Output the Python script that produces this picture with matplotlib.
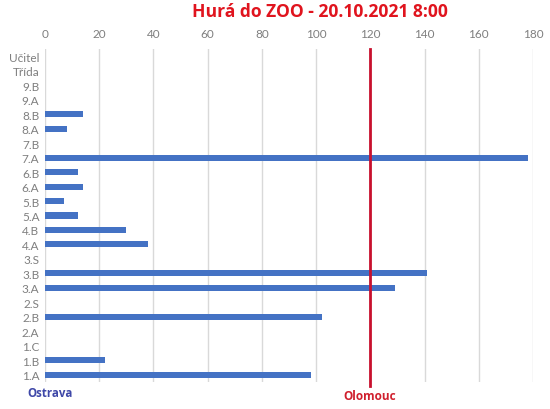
import matplotlib
matplotlib.use("Agg")
import matplotlib.pyplot as plt

plt.rcParams["font.family"] = ["Lato", "DejaVu Sans"]

# Classes listed top to bottom, with number of pupils per class
classes = ["Učitel", "Třída", "9.B", "9.A", "8.B", "8.A", "7.B", "7.A",
           "6.B", "6.A", "5.B", "5.A", "4.B", "4.A", "3.S", "3.B", "3.A",
           "2.S", "2.B", "2.A", "1.C", "1.B", "1.A"]
counts = [0, 0, 0, 0, 14, 8, 0, 178,
          12, 14, 7, 12, 30, 38, 0, 141, 129,
          0, 102, 0, 0, 22, 98]
x_ticks = [0, 20, 40, 60, 80, 100, 120, 140, 160, 180]
target = 120

title = "Hurá do ZOO - 20.10.2021 8:00"
left_label = "Ostrava"
right_label = "Olomouc"

fig = plt.figure(figsize=(5.5, 4.1), dpi=100)
ax = fig.add_axes([45 / 550, 1 - 383 / 410, (533 - 45) / 550, (383 - 50) / 410])

n = len(classes)
ypos = list(range(n))
ax.barh(ypos, counts, height=0.42, color="#4472C4", zorder=3)
ax.set_ylim(n - 0.5, -0.5)
ax.set_xlim(0, 180)
ax.set_yticks(ypos)
ax.set_yticklabels(classes)
ax.set_xticks(x_ticks)
ax.xaxis.tick_top()
ax.tick_params(axis="both", length=0, colors="#7f7f7f", labelsize=8.5)
ax.tick_params(axis="x", pad=7)
ax.tick_params(axis="y", pad=4)
for s in ax.spines.values():
    s.set_visible(False)
ax.grid(axis="x", color="#d9d9d9", linewidth=1.0, zorder=0)
ax.set_axisbelow(True)

# Destination marker line
ax.axvline(target, ymin=-0.013, ymax=1.0, color="#c8102e", linewidth=2,
           clip_on=False, zorder=4)

bold = dict(family=["Open Sans", "DejaVu Sans"], fontweight="bold",
            fontstretch="normal")
fig.text(320 / 550, 1 - 12 / 410, title, color="#e0141e", fontsize=12.6,
         ha="center", va="center", **bold)
fig.text(27 / 550, 1 - 394 / 410, left_label, color="#3f48a8", fontsize=8.3,
         ha="left", va="center", **bold)
fig.text(370 / 550, 1 - 397 / 410, right_label, color="#d0202e", fontsize=8.5,
         ha="center", va="center", **bold)

fig.savefig("out.png", dpi=100)
